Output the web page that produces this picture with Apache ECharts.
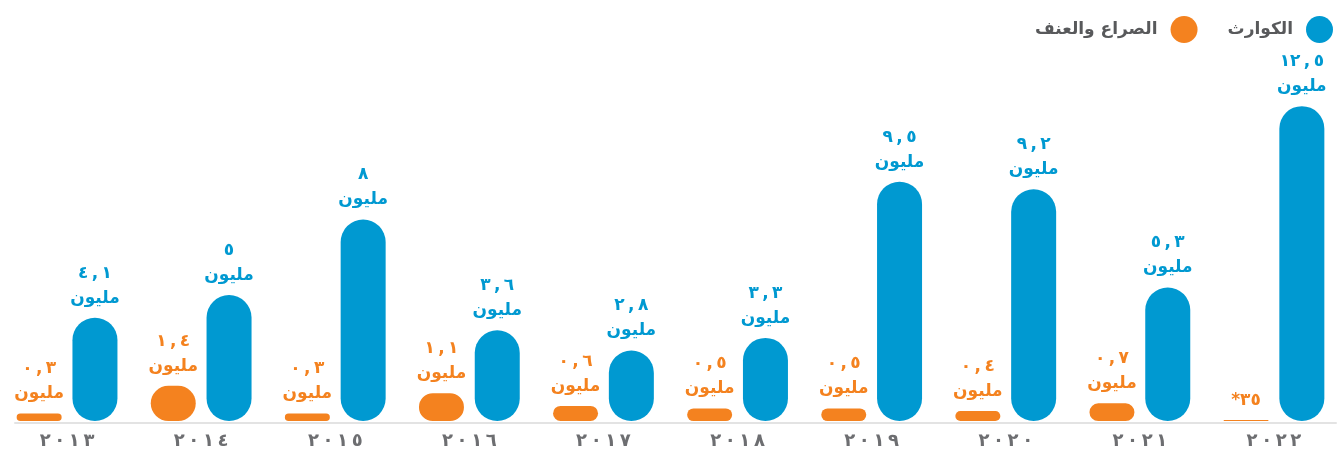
<!DOCTYPE html>
<html lang="ar" dir="ltr">
<head>
<meta charset="utf-8">
<script src="https://cdn.jsdelivr.net/npm/echarts@6/dist/echarts.min.js"></script>
<style>
  html, body { margin: 0; padding: 0; background: #ffffff; }
  #chart { width: 1341px; height: 454px; }
</style>
</head>
<body>
<div id="chart"></div>
<script>
// Years (category axis, left to right) and their Arabic-Indic labels
const years = ['2013', '2014', '2015', '2016', '2017', '2018', '2019', '2020', '2021', '2022'];
const yearLabels = ['٢٠١٣', '٢٠١٤', '٢٠١٥', '٢٠١٦', '٢٠١٧', '٢٠١٨', '٢٠١٩', '٢٠٢٠', '٢٠٢١', '٢٠٢٢'];

// Series names
const conflictName = 'الصراع والعنف';
const disasterName = 'الكوارث';

// Internal displacements, in millions
const conflictValues = [0.3, 1.4, 0.3, 1.1, 0.6, 0.5, 0.5, 0.4, 0.7, 0.035];
const disasterValues = [4.1, 5, 8, 3.6, 2.8, 3.3, 9.5, 9.2, 5.3, 12.5];

const millionWord = 'مليون';
const BLUE = '#0099D1';
const ORANGE = '#F4821F';
const FONT = 'DejaVu Sans';
const THIN = '\u2009';
// keep spaced digit runs in left-to-right order
const LRO = '\u202D';
const PDF = '\u202C';

const arabicDigits = '٠١٢٣٤٥٦٧٨٩';
function toArabic(str) {
  return String(str).replace(/[0-9]/g, d => arabicDigits[+d]);
}
// 4.1 -> "٤ , ١\nمليون"; values under 0.1 million are shown in thousands with an asterisk
function valueLabel(v) {
  if (v < 0.1) {
    return '*' + toArabic(Math.round(v * 1000));
  }
  const num = toArabic(String(v).replace('.', THIN + ',' + THIN));
  return LRO + num + PDF + '\n' + millionWord;
}
// spread the year digits a little
function yearLabel(i) {
  return LRO + yearLabels[i].split('').join(THIN) + PDF;
}

const chart = echarts.init(document.getElementById('chart'), null, { renderer: 'canvas' });

function barSeries(name, values, color) {
  return {
    name: name,
    type: 'bar',
    xAxisIndex: 0,
    yAxisIndex: 0,
    data: values,
    barWidth: 45,
    barGap: '24%',
    itemStyle: { color: color, borderRadius: 22.5 },
    label: {
      show: true,
      position: 'top',
      distance: 7,
      color: color,
      fontFamily: FONT,
      fontWeight: 'bold',
      fontSize: 17,
      lineHeight: 25,
      align: 'center',
      formatter: p => valueLabel(p.value)
    },
    emphasis: { disabled: true },
    animation: false
  };
}

chart.setOption({
  backgroundColor: '#ffffff',
  animation: false,
  textStyle: { fontFamily: FONT },
  legend: {
    right: 3,
    top: 11,
    align: 'right',
    icon: 'circle',
    itemWidth: 27,
    itemHeight: 27,
    itemGap: 30,
    selectedMode: false,
    data: [conflictName, disasterName],
    textStyle: {
      color: '#58595B',
      fontFamily: FONT,
      fontWeight: 'bold',
      fontSize: 17,
      padding: [0, 8, 0, 0]
    }
  },
  grid: [
    // bars
    { left: -2, width: 1357, top: 18, bottom: 33, containLabel: false },
    // baseline rule under the bars
    { left: 15, right: 5, top: 18, bottom: 31.5, containLabel: false }
  ],
  xAxis: [
    {
      type: 'category',
      gridIndex: 0,
      data: years,
      axisLine: { show: false },
      axisTick: { show: false },
      axisLabel: {
        color: '#6D6E71',
        fontFamily: FONT,
        fontWeight: 'bold',
        fontSize: 18,
        margin: 11,
        formatter: (v, i) => yearLabel(i)
      }
    },
    {
      type: 'value',
      gridIndex: 1,
      min: 0,
      max: 1,
      axisLine: { show: true, lineStyle: { color: '#E3E3E3', width: 2 } },
      axisTick: { show: false },
      axisLabel: { show: false },
      splitLine: { show: false }
    }
  ],
  yAxis: [
    { type: 'value', gridIndex: 0, min: 0, max: 16, show: false, splitLine: { show: false } },
    { type: 'value', gridIndex: 1, min: 0, max: 1, show: false, splitLine: { show: false } }
  ],
  series: [
    barSeries(conflictName, conflictValues, ORANGE),
    barSeries(disasterName, disasterValues, BLUE)
  ]
});
</script>
</body>
</html>
